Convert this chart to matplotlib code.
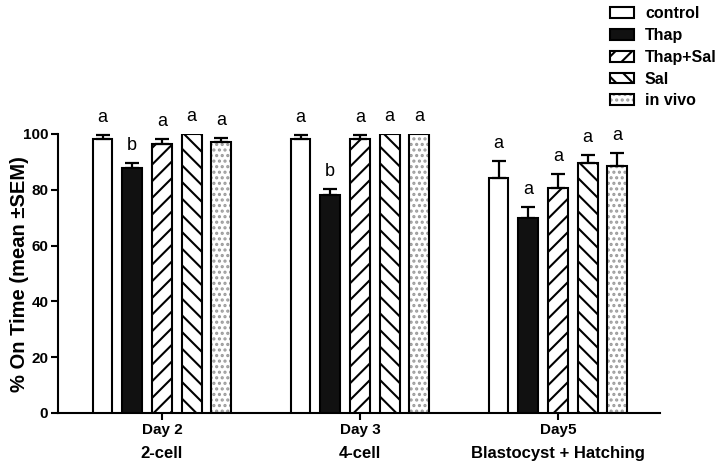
import numpy as np
import matplotlib
matplotlib.use("Agg")
import matplotlib.pyplot as plt
from matplotlib.patches import Patch
from matplotlib.legend_handler import HandlerTuple
import matplotlib.transforms as mtransforms

plt.rcParams['font.family'] = ['Liberation Sans', 'DejaVu Sans']
plt.rcParams['hatch.linewidth'] = 1.5

days = ["Day 2", "Day 3", "Day5"]
stages = ["2-cell", "4-cell", "Blastocyst + Hatching"]
groups = ["control", "Thap", "Thap+Sal", "Sal", "in vivo"]
means = {
    "control":  [98.1, 98.1, 84.3],
    "Thap":     [87.7, 78.0, 69.8],
    "Thap+Sal": [96.4, 98.0, 80.5],
    "Sal":      [100.0, 100.0, 89.5],
    "in vivo":  [97.1, 100.0, 88.5],
}
sems = {
    "control":  [1.5, 1.5, 6.0],
    "Thap":     [1.8, 2.2, 3.9],
    "Thap+Sal": [1.7, 1.6, 5.2],
    "Sal":      [0.0, 0.0, 2.9],
    "in vivo":  [1.4, 0.0, 4.6],
}
letters = {
    "control":  ["a", "a", "a"],
    "Thap":     ["b", "b", "a"],
    "Thap+Sal": ["a", "a", "a"],
    "Sal":      ["a", "a", "a"],
    "in vivo":  ["a", "a", "a"],
}

styles = {
    "control":  dict(facecolor="white", hatch=None),
    "Thap":     dict(facecolor="#111111", hatch=None),
    "Thap+Sal": dict(facecolor="white", hatch="//"),
    "Sal":      dict(facecolor="white", hatch="\\\\"),
    "in vivo":  dict(facecolor="white", hatch="..."),
}

fig = plt.figure(figsize=(7.2, 4.65), dpi=100)
ax = fig.add_axes([0.0806, 0.112, 0.836, 0.6])

x = np.arange(len(days))
width = 0.10
step = 0.15
lw = 1.5
dotcol = "#9a9a9a"
handles = []
for i, g in enumerate(groups):
    pos = x + (i - 2) * step
    st = styles[g]
    if g == "in vivo":
        ax.bar(pos, means[g], width, facecolor="white", edgecolor=dotcol,
               hatch=st["hatch"], linewidth=0, zorder=2)
        ax.bar(pos, means[g], width, facecolor="none", edgecolor="black",
               linewidth=lw, zorder=3)
        h = (Patch(facecolor="white", edgecolor=dotcol, hatch=st["hatch"], linewidth=0),
             Patch(facecolor="none", edgecolor="black", linewidth=lw))
    else:
        ax.bar(pos, means[g], width, facecolor=st["facecolor"], edgecolor="black",
               hatch=st["hatch"], linewidth=lw, zorder=3)
        h = Patch(facecolor=st["facecolor"], edgecolor="black", hatch=st["hatch"], linewidth=lw)
    handles.append(h)
    m = np.array(means[g]); e = np.array(sems[g])
    mask = e > 0
    ax.errorbar(pos[mask], m[mask], yerr=[np.zeros(mask.sum()), e[mask]], fmt="none",
                ecolor="black", elinewidth=1.6, capsize=5, capthick=1.6, zorder=4,
                clip_on=False)
    for j in range(len(days)):
        ax.text(pos[j], m[j] + e[j] + 6.3, letters[g][j], ha="center", va="center",
                fontsize=13, color="black", clip_on=False)

ax.set_ylim(0, 100)
ax.set_xlim(-0.525, 2.515)
ax.set_yticks([0, 20, 40, 60, 80, 100])
ax.set_yticklabels(["0", "20", "40", "60", "80", "100"], fontweight="bold", fontsize=11)
ax.set_xticks(x)
ax.set_xticklabels(days, fontweight="bold", fontsize=11)
for s in ["top", "right"]:
    ax.spines[s].set_visible(False)
for s in ["left", "bottom"]:
    ax.spines[s].set_linewidth(1.5)
ax.tick_params(axis="both", width=1.5, length=5, direction="out", pad=2)

trans = mtransforms.blended_transform_factory(ax.transData, fig.transFigure)
for j, s in enumerate(stages):
    ax.text(x[j], 1 - 453 / 465, s, transform=trans, ha="center", va="center",
            fontsize=12, fontweight="bold")

fig.text(0.027, 1 - 274 / 465, "% On Time (mean \u00b1SEM)", rotation=90,
         ha="center", va="center", fontsize=14.5, fontweight="bold")

leg = fig.legend(handles, groups, loc="upper left", bbox_to_anchor=(0.838, 1.0),
                 frameon=False, prop=dict(weight="bold", size=11.5),
                 handlelength=1.5, handleheight=0.65, handletextpad=0.7,
                 labelspacing=0.42, borderaxespad=0,
                 handler_map={tuple: HandlerTuple(ndivide=1, pad=0)})

fig.savefig("out.png", dpi=100)
